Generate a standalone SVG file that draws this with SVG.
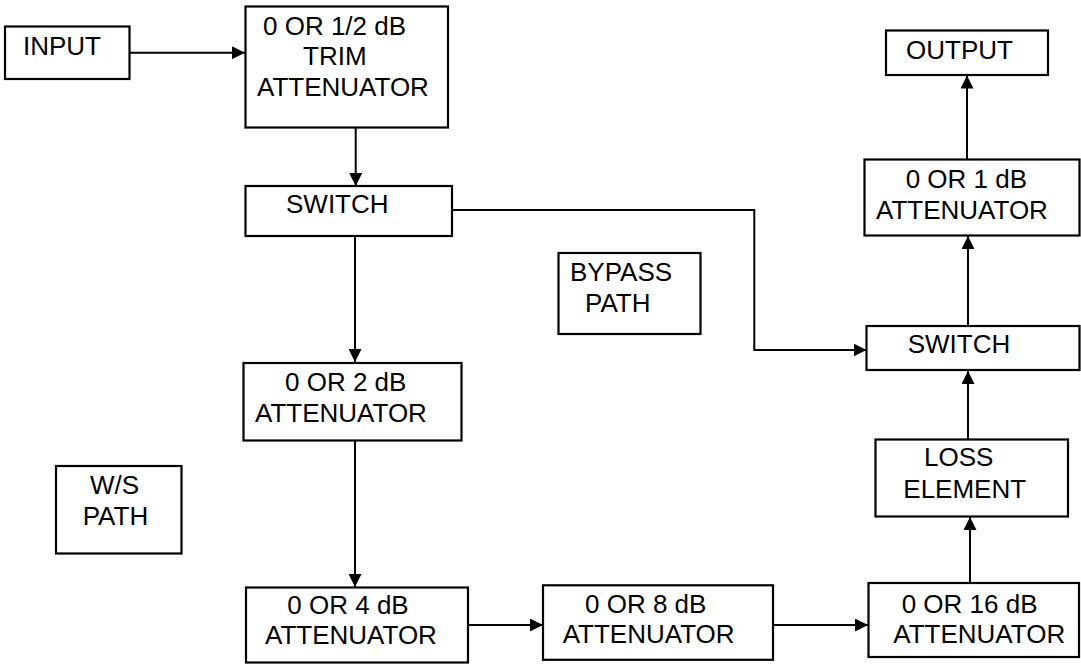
<svg xmlns="http://www.w3.org/2000/svg" width="1081" height="664" viewBox="0 0 1081 664">
  <style>
    .box { fill: #ffffff; stroke: #000000; stroke-width: 2.2; }
    .lbl { font-family: "Liberation Sans", Arial, sans-serif; font-size: 26px; fill: #000000; }
    .wire { fill: none; stroke: #000000; stroke-width: 2; }
  </style>
  <defs>
    <marker id="arrow" markerUnits="userSpaceOnUse" markerWidth="14" markerHeight="13" refX="13" refY="6.5" orient="auto">
      <path d="M0,0 L13,6.5 L0,13 Z" fill="#000000"/>
    </marker>
  </defs>
  <rect width="1081" height="664" fill="#ffffff"/>

  <!-- signal connectors -->
  <g id="connectors">
    <path class="wire" d="M130,52.7 H245" marker-end="url(#arrow)"/>
    <path class="wire" d="M355.7,128 V186" marker-end="url(#arrow)"/>
    <path class="wire" d="M355,237 V362" marker-end="url(#arrow)"/>
    <path class="wire" d="M355,441 V587" marker-end="url(#arrow)"/>
    <path class="wire" d="M469,625 H543" marker-end="url(#arrow)"/>
    <path class="wire" d="M774,625 H868" marker-end="url(#arrow)"/>
    <path class="wire" d="M970,583 V517" marker-end="url(#arrow)"/>
    <path class="wire" d="M968,439 V371" marker-end="url(#arrow)"/>
    <path class="wire" d="M968,326 V236" marker-end="url(#arrow)"/>
    <path class="wire" d="M967,159 V75.5" marker-end="url(#arrow)"/>
    <path class="wire" d="M453,210 H754.3 V350 H866.5" marker-end="url(#arrow)"/>
  </g>

  <g id="input">
    <rect class="box" x="5" y="26.5" width="124.5" height="52.5"/>
    <text class="lbl" x="23" y="55">INPUT</text>
  </g>

  <g id="trim-attenuator">
    <rect class="box" x="245.5" y="6.5" width="202.5" height="121"/>
    <text class="lbl" x="263" y="35">0 OR 1/2 dB</text>
    <text class="lbl" x="303" y="65">TRIM</text>
    <text class="lbl" x="257" y="96">ATTENUATOR</text>
  </g>

  <g id="switch-in">
    <rect class="box" x="245.5" y="186" width="206.5" height="50"/>
    <text class="lbl" x="286" y="213">SWITCH</text>
  </g>

  <g id="bypass-label">
    <rect class="box" x="558.5" y="253" width="142" height="81"/>
    <text class="lbl" x="570" y="281">BYPASS</text>
    <text class="lbl" x="585" y="311.7">PATH</text>
  </g>

  <g id="att-2db">
    <rect class="box" x="243.5" y="363" width="218" height="77.5"/>
    <text class="lbl" x="285" y="390.7">0 OR 2 dB</text>
    <text class="lbl" x="255" y="421.7">ATTENUATOR</text>
  </g>

  <g id="ws-label">
    <rect class="box" x="56" y="466" width="125.5" height="87.5"/>
    <text class="lbl" x="90" y="494">W/S</text>
    <text class="lbl" x="82.7" y="525">PATH</text>
  </g>

  <g id="att-4db">
    <rect class="box" x="246" y="587.5" width="222" height="75"/>
    <text class="lbl" x="287.3" y="614.3">0 OR 4 dB</text>
    <text class="lbl" x="265" y="644">ATTENUATOR</text>
  </g>

  <g id="att-8db">
    <rect class="box" x="543" y="585.3" width="230" height="74.5"/>
    <text class="lbl" x="585" y="613.3">0 OR 8 dB</text>
    <text class="lbl" x="562.7" y="642.7">ATTENUATOR</text>
  </g>

  <g id="att-16db">
    <rect class="box" x="868.5" y="583" width="210.5" height="74"/>
    <text class="lbl" x="901.7" y="612.7">0 OR 16 dB</text>
    <text class="lbl" x="893.3" y="643.3">ATTENUATOR</text>
  </g>

  <g id="loss-element">
    <rect class="box" x="875.5" y="439.5" width="192.5" height="77"/>
    <text class="lbl" x="924" y="465.7">LOSS</text>
    <text class="lbl" x="903.3" y="498.3">ELEMENT</text>
  </g>

  <g id="switch-out">
    <rect class="box" x="866.5" y="326" width="213" height="44"/>
    <text class="lbl" x="907.7" y="353.3">SWITCH</text>
  </g>

  <g id="att-1db">
    <rect class="box" x="864.5" y="159.5" width="215" height="76"/>
    <text class="lbl" x="905.7" y="187.7">0 OR 1 dB</text>
    <text class="lbl" x="876" y="219">ATTENUATOR</text>
  </g>

  <g id="output">
    <rect class="box" x="886" y="30.5" width="162" height="44.5"/>
    <text class="lbl" x="906" y="59">OUTPUT</text>
  </g>
</svg>
